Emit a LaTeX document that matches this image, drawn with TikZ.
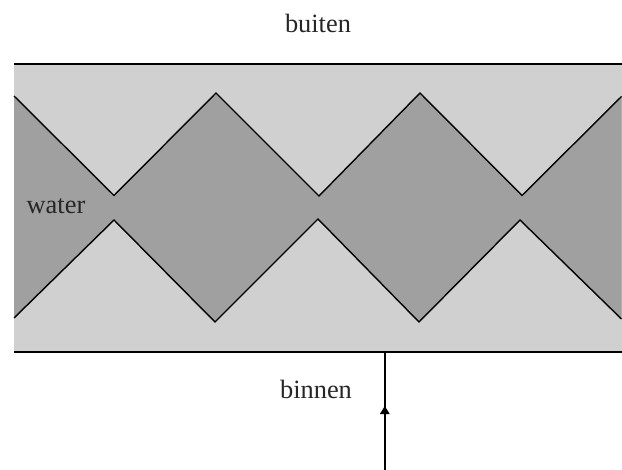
\documentclass[tikz,border=0pt]{standalone}
\usepackage{fontspec}
\setmainfont{Liberation Serif}
\tikzset{
  lbl/.style={anchor=base,text=black!85,font=\fontsize{26.4}{28}\selectfont,inner sep=0pt},
  edge/.style={draw=black,line width=1.4pt,line join=miter},
}
\definecolor{wall}{HTML}{D0D0D0}
\definecolor{water}{HTML}{A0A0A0}
\begin{document}
\begin{tikzpicture}[x=1pt,y=-1pt]
\useasboundingbox (0,0) rectangle (622,470);
\fill[wall] (14,64) rectangle (621.5,352);
\fill[water] (14,96) -- (114,195.5) -- (216,93) -- (319,196) -- (420,93) -- (522,195.5) -- (621.5,96.5)
  -- (621.5,319) -- (520,220) -- (419,322) -- (318,219) -- (215,322) -- (114,220) -- (14,318) -- cycle;
\coordinate (tl) at (14,64);
\coordinate (tr) at (622,64);
\coordinate (bl) at (14,352);
\coordinate (br) at (622,352);
\draw[edge] (tl) -- (tr);
\draw[edge] (bl) -- (br);
\draw[edge] (14,96) -- (114,195.5) -- (216,93) -- (319,196) -- (420,93) -- (522,195.5) -- (621.5,96.5);
\draw[edge] (14,318) -- (114,220) -- (215,322) -- (318,219) -- (419,322) -- (520,220) -- (621.5,319);
\coordinate (astart) at (384.8,470);
\coordinate (atop) at (384.8,352);
\coordinate (atip) at (384.8,406);
\draw[edge,line width=1.7pt] (astart) -- (atop);
\fill[black] (atip) -- (389.8,414.2) -- (379.8,414.2) -- cycle;
\node[lbl] (buiten) at (318,32.5) {buiten};
\node[lbl] (water) at (56,214) {water};
\node[lbl] (binnen) at (316,398.3) {binnen};
\end{tikzpicture}
\end{document}
